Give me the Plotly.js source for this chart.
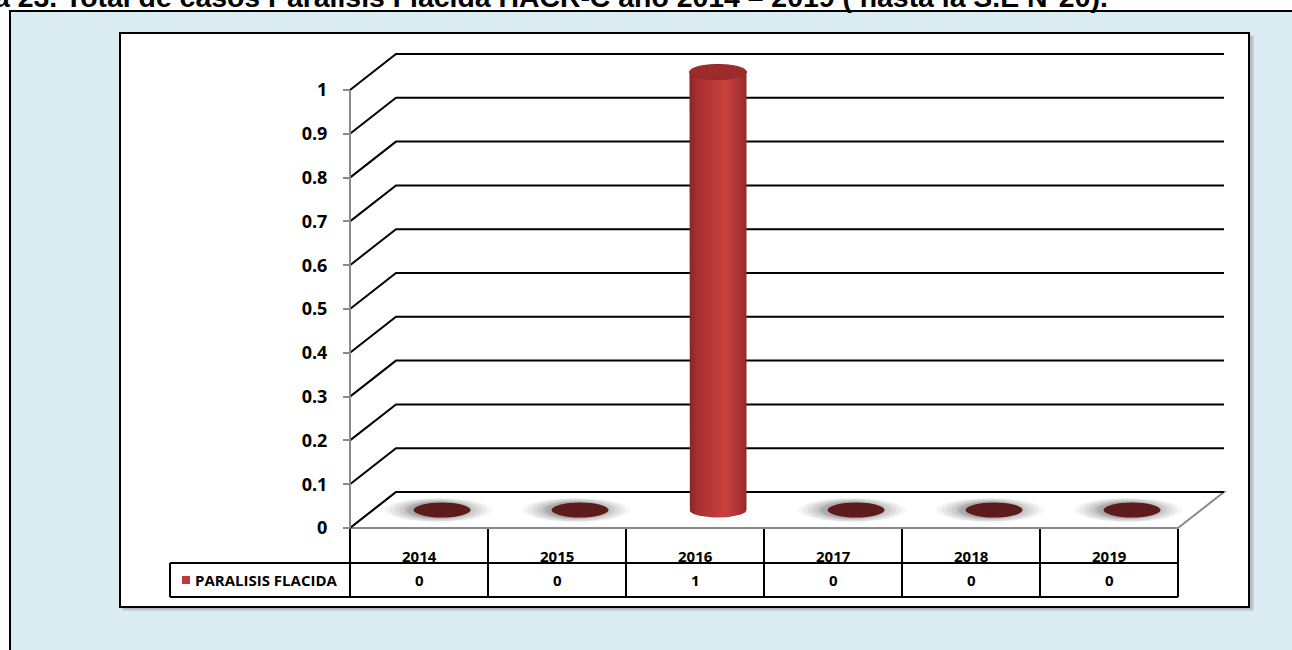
<!DOCTYPE html>
<html>
<head>
<meta charset="utf-8">
<script src="https://cdn.plot.ly/plotly-3.0.1.min.js"></script>
<style>
  html, body { margin: 0; padding: 0; background: #ffffff; }
  #chart { width: 1292px; height: 650px; }
</style>
</head>
<body>
<div id="chart"></div>
<script>
// ---- data ----
const years = ['2014', '2015', '2016', '2017', '2018', '2019'];
const cases = [0, 0, 1, 0, 0, 0];
const seriesName = 'PARALISIS FLACIDA';
const yTickVals = [0, 0.1, 0.2, 0.3, 0.4, 0.5, 0.6, 0.7, 0.8, 0.9, 1];
const yTickText = ['0', '0.1', '0.2', '0.3', '0.4', '0.5', '0.6', '0.7', '0.8', '0.9', '1'];
const captionText = 'Figura 23. Total de casos Paralisis Flacida HACR-C año 2014 – 2019 ( hasta la S.E N°20).';

// ---- geometry (pixels -> axis units) ----
const W = 1292, H = 650;
const PX_CAT = 138;            // width of one category column
const PX_VAL = 438;            // height of one value unit
const AXIS_X = 350, ZERO_Y = 528;
const X0 = -0.5 - AXIS_X / PX_CAT, X1 = X0 + W / PX_CAT;
const Y0 = -(H - ZERO_Y) / PX_VAL, Y1 = ZERO_Y / PX_VAL;
const px = v => v / PX_CAT;    // horizontal pixel length in x units
const py = v => v / PX_VAL;    // vertical pixel length in y units
const DX = px(46), DY = py(36);  // depth of the 3-D box
const nCat = years.length;
const xL = -0.5, xR = nCat - 0.5;
const yMax = yTickVals[yTickVals.length - 1];
const paperX = p => p / W, paperY = p => 1 - p / H;

const BLACK = '#000000', GREY = '#8a8a8a';
const shapes = [];
const annotations = [];
const traces = [];

// ---- frames ----
shapes.push({ type: 'rect', xref: 'paper', yref: 'paper', layer: 'below',
  x0: paperX(10), x1: paperX(1320), y0: paperY(11), y1: paperY(680),
  fillcolor: '#dbecf3', line: { color: BLACK, width: 2 } });
shapes.push({ type: 'rect', xref: 'paper', yref: 'paper', layer: 'below',
  x0: paperX(123), x1: paperX(1254), y0: paperY(36), y1: paperY(611),
  fillcolor: 'rgba(90,90,90,0.18)', line: { width: 0 } });
shapes.push({ type: 'rect', xref: 'paper', yref: 'paper', layer: 'below',
  x0: paperX(121), x1: paperX(1252), y0: paperY(35), y1: paperY(609),
  fillcolor: 'rgba(90,90,90,0.18)', line: { width: 0 } });
shapes.push({ type: 'rect', xref: 'paper', yref: 'paper', layer: 'below',
  x0: paperX(120), x1: paperX(1249), y0: paperY(33), y1: paperY(607),
  fillcolor: '#ffffff', line: { color: BLACK, width: 2 } });

// ---- floor ----
shapes.push({ type: 'path', xref: 'x', yref: 'y', layer: 'below',
  path: `M${xL},0 L${xL + DX},${DY} L${xR + DX},${DY} L${xR},0 Z`,
  fillcolor: '#ffffff', line: { color: GREY, width: 2 } });

// ---- gridlines on side and back walls ----
yTickVals.forEach(v => {
  shapes.push({ type: 'path', xref: 'x', yref: 'y', layer: 'below',
    path: `M${xL},${v} L${xL + DX},${v + DY} L${xR + DX},${v + DY}`,
    line: { color: BLACK, width: 2 } });
});

// value axis line
shapes.push({ type: 'line', xref: 'x', yref: 'y', layer: 'below',
  x0: xL, x1: xL, y0: 0, y1: yMax, line: { color: GREY, width: 2 } });

// ---- cylinders ----
const HW = px(28.5), EH = py(7.5);
cases.forEach((v, i) => {
  const cx = i + DX / 2, yb = DY / 2, yt = v + DY / 2;
  if (v > 0) {
    const xs = [cx - HW, cx - HW], ys = [yt, yb];
    for (let k = 0; k <= 40; k++) {
      const t = Math.PI + Math.PI * k / 40;
      xs.push(cx + HW * Math.cos(t)); ys.push(yb + EH * Math.sin(t));
    }
    xs.push(cx + HW); ys.push(yt);
    traces.push({ type: 'scatter', mode: 'lines', x: xs, y: ys,
      fill: 'toself', line: { width: 0, color: 'rgba(0,0,0,0)' },
      fillgradient: { type: 'horizontal', colorscale: [
        [0, '#8a2424'], [0.12, '#a52e2d'], [0.5, '#c23c3a'], [0.62, '#c9413e'],
        [0.85, '#b03433'], [1, '#922928'] ] },
      hoverinfo: 'skip', showlegend: false });
    shapes.push({ type: 'circle', xref: 'x', yref: 'y', layer: 'above',
      x0: cx - HW, x1: cx + HW, y0: yt - EH, y1: yt + EH,
      fillcolor: '#9c2c2b', line: { color: '#922928', width: 1 } });
  } else {
    // soft ground shadow under an empty column
    [[54, 12, 0.06], [49, 11.5, 0.08], [44, 11, 0.1], [39, 10, 0.12], [34, 9, 0.15], [31, 8.5, 0.2]].forEach(([w, h, a]) => {
      shapes.push({ type: 'circle', xref: 'x', yref: 'y', layer: 'below',
        x0: cx - px(4) - px(w), x1: cx - px(4) + px(w), y0: yt - py(h), y1: yt + py(h),
        fillcolor: `rgba(100,100,100,${a})`, line: { width: 0 } });
    });
    shapes.push({ type: 'circle', xref: 'x', yref: 'y', layer: 'above',
      x0: cx - HW, x1: cx + HW, y0: yt - EH, y1: yt + EH,
      fillcolor: '#5e1b1b', line: { width: 0 } });
  }
});

// ---- data table ----
const rowMid = -py(35), rowBot = -py(69), xLabel = xL - px(180);
for (let k = 0; k <= nCat; k++) {
  shapes.push({ type: 'line', xref: 'x', yref: 'y', layer: 'below',
    x0: xL + k, x1: xL + k, y0: -py(1), y1: rowBot, line: { color: BLACK, width: 2 } });
}
[rowMid, rowBot].forEach(yy => shapes.push({ type: 'line', xref: 'x', yref: 'y', layer: 'below',
  x0: xLabel, x1: xR, y0: yy, y1: yy, line: { color: BLACK, width: 2 } }));
shapes.push({ type: 'line', xref: 'x', yref: 'y', layer: 'below',
  x0: xLabel, x1: xLabel, y0: rowMid, y1: rowBot, line: { color: BLACK, width: 2 } });
// legend key
const keyY = (rowMid + rowBot) / 2;
shapes.push({ type: 'rect', xref: 'x', yref: 'y', layer: 'above',
  x0: xLabel + px(12), x1: xLabel + px(20), y0: keyY - py(4), y1: keyY + py(4),
  fillcolor: '#c0393a', line: { width: 0 } });

const tableFont = { family: 'Open Sans, Liberation Sans, sans-serif', size: 15, color: BLACK, weight: 'bold' };
years.forEach((yr, i) => {
  annotations.push({ xref: 'x', yref: 'y', x: i, y: rowMid - py(5), yanchor: 'bottom',
    text: yr, showarrow: false, font: tableFont });
  annotations.push({ xref: 'x', yref: 'y', x: i, y: keyY, yanchor: 'middle',
    text: String(cases[i]), showarrow: false, font: tableFont });
});
annotations.push({ xref: 'x', yref: 'y', x: xLabel + px(23), y: keyY, xanchor: 'left', yanchor: 'middle',
  text: seriesName, showarrow: false, font: tableFont });

// ---- caption (runs off the top edge) ----
annotations.push({ xref: 'paper', yref: 'paper', x: paperX(1110), y: paperY(15), xanchor: 'right', yanchor: 'bottom',
  text: captionText, showarrow: false,
  font: { family: 'Liberation Sans, Arial, sans-serif', size: 28.4, color: BLACK, weight: 'bold' } });

const layout = {
  width: W, height: H,
  margin: { l: 0, r: 0, t: 0, b: 0, pad: 0 },
  paper_bgcolor: '#ffffff', plot_bgcolor: 'rgba(0,0,0,0)',
  showlegend: false,
  xaxis: { range: [X0, X1], visible: false, fixedrange: true },
  yaxis: { range: [Y0, Y1], anchor: 'free', position: paperX(AXIS_X),
    tickmode: 'array', tickvals: yTickVals, ticktext: yTickText,
    ticks: 'outside', ticklen: 7, tickwidth: 2, tickcolor: GREY,
    showgrid: false, zeroline: false, showline: false,
    ticklabelstandoff: 12,
    tickfont: { family: 'Open Sans, Liberation Sans, sans-serif', size: 18, color: BLACK, weight: 'bold' },
    fixedrange: true },
  shapes: shapes,
  annotations: annotations
};

Plotly.newPlot('chart', traces, layout, { staticPlot: true, displayModeBar: false });
</script>
</body>
</html>
